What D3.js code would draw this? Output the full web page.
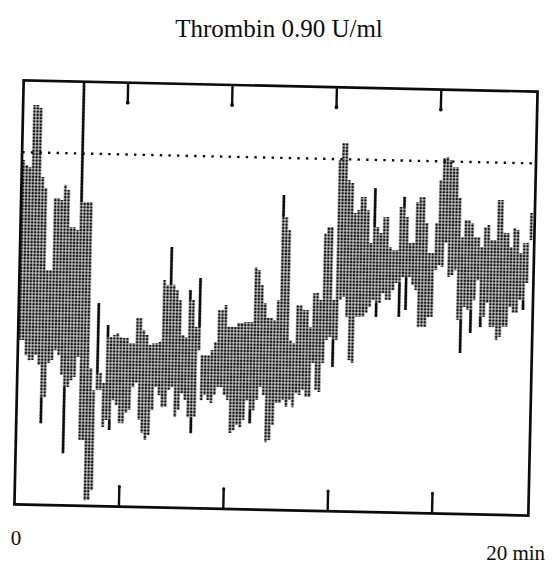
<!DOCTYPE html>
<html><head><meta charset="utf-8">
<script src="https://cdn.jsdelivr.net/npm/d3@7"></script>
<style>html,body{margin:0;padding:0;background:#fff;} svg{display:block}</style>
</head><body><svg id="c" width="554" height="565"></svg>
<script>
// ---- data (values in % of the dotted reference level) ----
const title = "Thrombin 0.90 U/ml";
const sampleMinutes = 0.125;           // one recorder column every 7.5 s
const high = [97.8, 96.4, 95.8, 113.5, 113.5, 112.7, 93.1, 90.0, 66.7, 66.7,
 87.2, 87.2, 86.7, 91.0, 89.6, 79.1, 79.1, 78.3, 120.0, 86.2,
 86.3, 86.3, 39.2, 32.9, 57.7, 37.8, 35.0, 51.5, 48.1, 48.7,
 49.3, 48.1, 47.9, 47.9, 46.5, 46.5, 53.7, 53.7, 50.3, 48.9,
 46.1, 46.6, 46.7, 47.0, 64.6, 63.2, 74.0, 63.3, 61.8, 59.0,
 49.1, 48.5, 61.9, 59.1, 51.5, 65.4, 43.6, 43.6, 43.6, 45.0,
 47.3, 56.4, 56.5, 57.9, 51.7, 51.7, 51.7, 52.9, 52.9, 53.2,
 53.2, 53.2, 68.8, 68.0, 63.8, 58.7, 54.5, 54.5, 53.9, 59.6,
 89.5, 83.2, 79.6, 48.3, 47.5, 58.3, 58.3, 57.0, 57.0, 52.2,
 61.8, 61.9, 59.9, 78.9, 80.7, 80.7, 60.0, 99.7, 104.6, 104.6,
 94.1, 93.3, 84.8, 85.7, 89.4, 89.4, 85.7, 76.4, 92.0, 81.0,
 79.3, 83.8, 83.9, 75.4, 74.5, 74.5, 86.8, 89.7, 84.0, 76.6,
 76.7, 88.3, 89.7, 89.8, 82.4, 73.9, 73.9, 82.5, 94.7, 101.0,
 101.3, 100.4, 98.5, 98.5, 89.7, 78.6, 83.5, 83.5, 82.7, 78.7,
 78.7, 75.9, 81.6, 82.2, 78.0, 78.0, 89.4, 89.4, 80.1, 80.1,
 76.1, 81.5, 81.0, 74.5, 77.3, 77.4, 85.9];
const low = [46.7, 46.7, 42.4, 41.0, 41.1, 42.5, 39.7, 23.2, 30.6, 40.3,
 41.2, 44.0, 42.6, 37.0, 14.8, 33.6, 35.6, 36.5, 42.2, 18.7,
 18.7, 1.6, 1.7, 4.5, 33.0, 33.0, 22.5, 24.5, 21.7, 30.2,
 28.8, 23.7, 23.7, 26.6, 27.5, 34.0, 35.2, 24.7, 21.0, 19.1,
 20.5, 27.6, 34.2, 31.9, 28.5, 28.6, 33.4, 34.3, 25.8, 27.8,
 32.6, 30.7, 25.8, 21.3, 25.9, 44.9, 30.7, 32.2, 30.8, 30.0,
 32.3, 34.6, 34.6, 32.3, 30.9, 21.6, 22.4, 23.9, 23.3, 25.4,
 31.0, 24.5, 28.2, 31.1, 34.8, 32.6, 19.2, 19.8, 24.1, 30.4,
 30.4, 31.3, 29.3, 31.3, 29.3, 33.3, 32.8, 34.2, 32.3, 32.3,
 42.0, 34.3, 33.8, 42.0, 48.6, 49.5, 41.0, 48.6, 60.0, 60.9,
 55.2, 43.0, 42.2, 55.3, 55.3, 55.4, 56.5, 58.2, 60.2, 55.4,
 59.4, 62.3, 60.3, 60.3, 63.2, 65.2, 55.6, 66.9, 57.6, 67.0,
 64.7, 63.3, 52.8, 52.9, 52.9, 55.7, 55.8, 69.1, 70.5, 70.0,
 76.9, 67.2, 67.8, 69.2, 55.1, 45.7, 58.8, 58.0, 51.5, 60.8,
 66.5, 53.2, 56.1, 60.1, 53.3, 53.3, 49.6, 50.5, 53.4, 53.4,
 59.1, 57.4, 57.4, 61.1, 58.3, 66.0, 78.2];
const tickMinutes = [4, 8, 12, 16];
const labelMinutes = [0, 20];
const labelTexts = ["0", "20 min"];
const referenceLevel = 100;

// ---- layout ----
const svg = d3.select("#c");
const frame = {left: 19, right: 533, top: 86, bottom: 510};
const x = d3.scaleLinear().domain([0, 20]).range([19.1, 541.1]);
const y = d3.scaleLinear().domain([0, 100]).range([510, 157.8]);
const ink = "#0c0c0c";
const colW = x(sampleMinutes) - x(0);

const defs = svg.append("defs");
const pat = defs.append("pattern").attr("id", "dots")
  .attr("patternUnits", "userSpaceOnUse")
  .attr("x", x(0)).attr("y", y(0))
  .attr("width", colW).attr("height", colW);
pat.append("rect").attr("x", 0.35).attr("y", 0.35)
  .attr("width", 2.5).attr("height", 2.5).attr("fill", ink);

const g = svg.append("g").attr("transform", "rotate(1.25,276,297.5)");

// dotted reference line
g.append("line")
  .attr("x1", x(0)).attr("x2", frame.right)
  .attr("y1", y(referenceLevel)).attr("y2", y(referenceLevel))
  .attr("stroke", ink).attr("stroke-width", 2.4)
  .attr("stroke-dasharray", "2.4 6.2");

// trace columns (dot-matrix fill)
const cols = high.map((h, i) => ({i, h, l: low[i]}));
g.append("g").selectAll("rect").data(cols).join("rect")
  .attr("x", d => x(d.i * sampleMinutes))
  .attr("width", colW)
  .attr("y", d => y(d.h))
  .attr("height", d => y(d.l) - y(d.h))
  .attr("fill", "url(#dots)");

// fast pen excursions beyond both neighbours drawn solid
const solid = [];
cols.forEach((d, i) => {
  const hp = i > 0 ? high[i - 1] : d.h, hn = i < high.length - 1 ? high[i + 1] : d.h;
  const lp = i > 0 ? low[i - 1] : d.l, ln = i < low.length - 1 ? low[i + 1] : d.l;
  const hm = Math.max(hp, hn), lm = Math.min(lp, ln);
  if (d.h - hm > 2.5) solid.push({i, a: d.h, b: hm});
  if (lm - d.l > 2.5) solid.push({i, a: lm, b: d.l});
});
g.append("g").selectAll("line").data(solid).join("line")
  .attr("x1", d => x((d.i + 0.5) * sampleMinutes))
  .attr("x2", d => x((d.i + 0.5) * sampleMinutes))
  .attr("y1", d => y(d.a)).attr("y2", d => y(d.b))
  .attr("stroke", ink).attr("stroke-width", 2.2);

// frame
g.append("rect")
  .attr("x", frame.left).attr("y", frame.top)
  .attr("width", frame.right - frame.left).attr("height", frame.bottom - frame.top)
  .attr("fill", "none").attr("stroke", ink).attr("stroke-width", 2.7);

// ticks (top hanging, bottom standing) with pen blobs
const tickLen = 20;
tickMinutes.forEach(t => {
  g.append("line").attr("x1", x(t)).attr("x2", x(t))
    .attr("y1", frame.top).attr("y2", frame.top + tickLen)
    .attr("stroke", ink).attr("stroke-width", 2.4);
  g.append("circle").attr("cx", x(t)).attr("cy", frame.top + tickLen).attr("r", 1.9).attr("fill", ink);
  g.append("line").attr("x1", x(t)).attr("x2", x(t))
    .attr("y1", frame.bottom).attr("y2", frame.bottom - tickLen)
    .attr("stroke", ink).attr("stroke-width", 2.4);
  g.append("circle").attr("cx", x(t)).attr("cy", frame.bottom - tickLen).attr("r", 1.6).attr("fill", ink);
});

// texts
const serif = "'Liberation Serif','DejaVu Serif',serif";
svg.append("text").attr("x", 279).attr("y", 37)
  .attr("text-anchor", "middle").attr("font-family", serif)
  .attr("font-size", 25).attr("fill", ink).text(title);
svg.append("text").attr("x", x(labelMinutes[0]) - 3).attr("y", 545)
  .attr("text-anchor", "middle").attr("font-family", serif)
  .attr("font-size", 21).attr("fill", ink).text(labelTexts[0]);
svg.append("text").attr("x", x(labelMinutes[1]) + 4).attr("y", 560)
  .attr("text-anchor", "end").attr("font-family", serif)
  .attr("font-size", 21).attr("fill", ink).text(labelTexts[1]);
</script></body></html>
